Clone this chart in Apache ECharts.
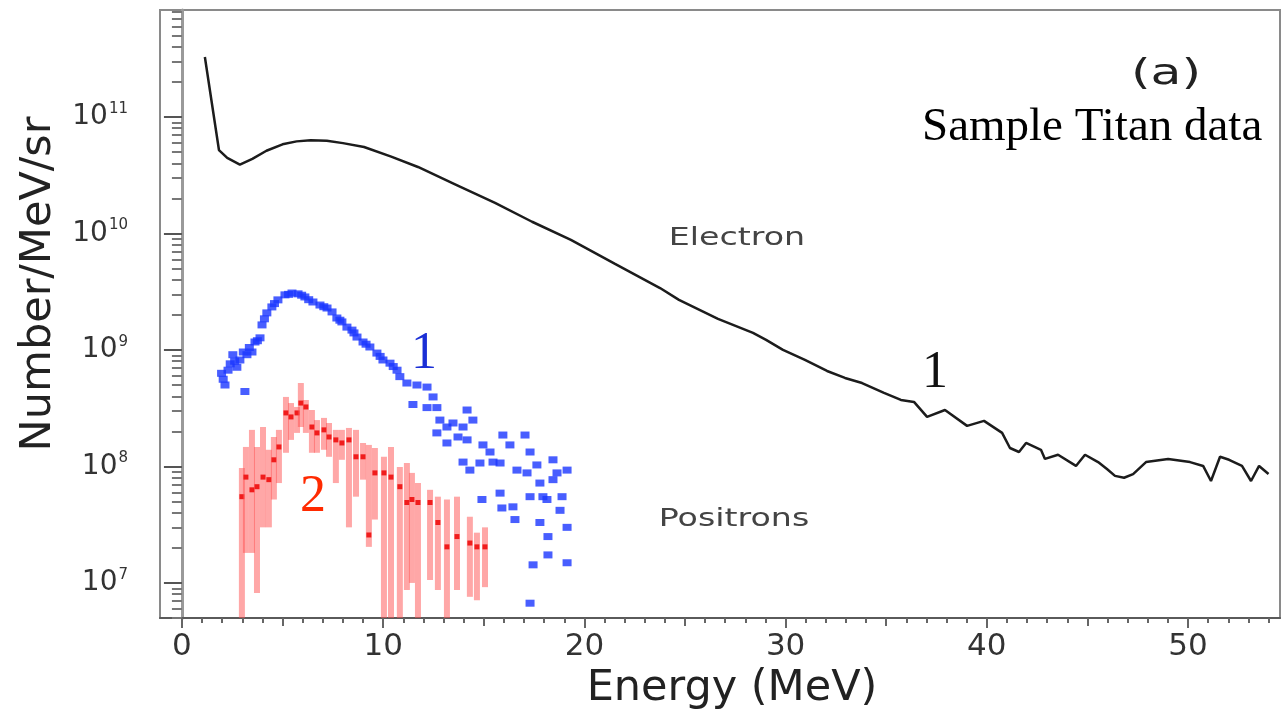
<!DOCTYPE html>
<html>
<head>
<meta charset="utf-8">
<title>Energy spectrum</title>
<script src="https://cdn.jsdelivr.net/npm/echarts@6/dist/echarts.min.js"></script>
<style>
  html, body { margin: 0; padding: 0; background: #ffffff; }
  #chart { width: 1285px; height: 712px; }
</style>
</head>
<body>
<div id="chart"></div>
<script>
// ---- Electron spectrum (curve 1, black) ----
const electronEnergy = [
  1.14, 1.84, 2.25, 2.88, 3.5, 4.2, 5.0, 5.7, 6.4, 7.2, 8.0, 9.05, 10.4, 11.73, 13.6,
  15.56, 17.4, 19.33, 21.5, 23.76, 24.7, 26.64, 28.38, 29.03, 29.87, 30.96, 32.06,
  32.95, 33.8, 34.89, 35.73, 36.38, 37.03, 37.92, 39.02, 39.86, 40.76, 41.15, 41.6,
  41.95, 42.69, 42.89, 43.54, 44.43, 44.88, 45.53, 45.97, 46.37, 46.82, 47.27, 47.91,
  49.01, 50.1, 50.75, 51.14, 51.59, 52.04, 52.68, 53.13, 53.53, 54.0
];
const electronFlux = [
  3.27e11, 5.2e10, 4.45e10, 3.9e10, 4.37e10, 5.13e10, 5.82e10, 6.17e10, 6.31e10, 6.24e10,
  5.96e10, 5.52e10, 4.57e10, 3.72e10, 2.63e10, 1.83e10, 1.26e10, 8.8e9, 5.5e9, 3.4e9,
  2.69e9, 1.85e9, 1.4e9, 1.22e9, 1.0e9, 8.2e8, 6.6e8, 5.75e8, 5.2e8, 4.28e8, 3.72e8,
  3.58e8, 2.66e8, 3.05e8, 2.23e8, 2.46e8, 1.94e8, 1.44e8, 1.33e8, 1.59e8, 1.39e8,
  1.16e8, 1.26e8, 1.01e8, 1.26e8, 1.09e8, 9.5e7, 8.3e7, 8.0e7, 8.6e7, 1.09e8, 1.16e8,
  1.09e8, 1.01e8, 7.5e7, 1.21e8, 1.14e8, 1.01e8, 7.5e7, 1.01e8, 8.6e7
];

// ---- Positron spectrum, run 1 (blue points) ----
const positronEnergy1 = [
  1.97, 2.14, 2.29, 2.53, 2.73, 2.88, 3.13, 3.23, 3.48, 3.63, 3.88, 3.98, 4.22, 4.47,
  4.77, 5.12, 5.47, 5.77, 6.11, 6.51, 6.86, 7.21, 7.46, 7.7, 7.95, 8.2, 8.45, 8.7,
  9.0, 9.34, 9.69, 9.99, 10.34, 10.69, 10.83, 11.18, 11.68, 12.18, 12.48, 11.48,
  12.18, 12.67, 12.82, 13.17, 13.47, 13.97, 14.17, 14.46, 12.67, 13.17, 13.72, 14.17,
  14.96, 15.31, 15.46, 15.81, 13.97, 14.31, 14.81, 15.95, 16.3, 17.05, 17.3, 16.65,
  17.15, 17.64, 18.44, 18.64, 19.14, 14.91, 15.81, 15.9, 16.45, 17.3, 17.94, 18.14,
  18.89, 16.55, 17.79, 19.14, 18.19, 18.19, 17.45, 19.14, 17.3, 17.79, 18.79, 18.44,
  2.05, 2.4, 2.62, 3.05, 3.35, 3.75, 4.1, 4.6, 5.3, 5.95, 6.3, 7.05, 7.85, 8.55, 9.15,
  9.85, 10.5
];
const positronFlux1 = [
  6.3e8, 5.0e8, 6.7e8, 9.1e8, 7.1e8, 8.2e8, 4.4e8, 9.1e8, 9.6e8, 1.17e9, 1.27e9, 1.64e9,
  2.08e9, 2.34e9, 2.69e9, 2.97e9, 3.08e9, 3.03e9, 2.85e9, 2.58e9, 2.43e9, 2.29e9,
  2.12e9, 1.88e9, 1.74e9, 1.57e9, 1.48e9, 1.29e9, 1.17e9, 1.06e9, 9.4e8, 8.2e8, 7.7e8,
  6.7e8, 5.9e8, 5.2e8, 5.0e8, 4.8e8, 3.95e8, 3.4e8, 3.2e8, 3.2e8, 2.5e8, 2.18e8,
  2.36e8, 2.18e8, 3.05e8, 2.5e8, 1.94e8, 1.59e8, 1.79e8, 1.69e8, 1.53e8, 1.33e8,
  1.09e8, 1.07e8, 1.09e8, 9.3e7, 1.07e8, 1.86e8, 1.53e8, 1.86e8, 1.33e8, 9.3e7, 8.8e7,
  1.03e8, 1.14e8, 8.8e7, 9.3e7, 5.2e7, 5.9e7, 4.4e7, 4.5e7, 5.5e7, 5.5e7, 5.2e7, 5.5e7,
  3.5e7, 3.3e7, 3.0e7, 2.5e7, 1.74e7, 1.43e7, 1.49e7, 6.7e6, 7.2e7, 4.2e7, 7.7e7,
  5.6e8, 7.6e8, 8.0e8, 9.6e8, 1.05e9, 1.2e9, 1.85e9, 2.5e9, 3.0e9, 2.95e9, 2.7e9,
  2.35e9, 1.8e9, 1.4e9, 1.12e9, 8.8e8, 7.2e8
];

// ---- Positron spectrum, run 2 (red points with error bars) ----
const positronEnergy2 = [
  2.98, 3.18, 3.48, 3.73, 4.03, 4.32, 4.57, 4.82, 5.17, 5.42, 5.72, 5.91, 6.16, 6.46,
  6.71, 7.06, 7.31, 7.65, 7.95, 8.3, 8.65, 9.0, 9.29, 9.59, 10.04, 10.39, 10.83, 11.18,
  11.43, 11.73, 12.33, 12.72, 13.17, 13.67, 14.31, 14.66, 15.06
];
const positronFlux2 = [
  5.5e7, 8.1e7, 6.3e7, 6.7e7, 8.1e7, 7.7e7, 1.14e8, 1.47e8, 2.88e8, 2.66e8, 2.88e8,
  3.5e8, 3.24e8, 2.18e8, 1.94e8, 2.06e8, 1.79e8, 1.69e8, 1.59e8, 1.69e8, 1.21e8,
  1.21e8, 2.58e7, 8.8e7, 8.8e7, 8.1e7, 6.7e7, 4.9e7, 5.2e7, 4.9e7, 4.9e7, 3.3e7,
  2.04e7, 2.5e7, 2.2e7, 2.04e7, 2.04e7
];
const positronLow2 = [
  1e6, 1.81e7, 1.81e7, 8.2e6, 3.0e7, 3.0e7, 5.2e7, 7.2e7, 1.31e8, 1.69e8, 1.94e8,
  2.18e8, 1.94e8, 1.31e8, 1.31e8, 1.39e8, 1.21e8, 7.2e7, 1.14e8, 3.0e7, 5.5e7, 7.7e7,
  2.04e7, 3.5e7, 1e6, 1e6, 1e6, 8.7e6, 1.0e7, 1e6, 1.06e7, 8.7e6, 1e6, 8.7e6, 7.6e6,
  7.1e6, 9.2e6
];
const positronHigh2 = [
  9.7e7, 1.47e8, 2.06e8, 1.47e8, 2.18e8, 1.39e8, 1.79e8, 2.06e8, 3.95e8, 3.5e8, 3.24e8,
  5.2e8, 3.72e8, 3.05e8, 2.5e8, 2.61e8, 2.36e8, 2.06e8, 2.06e8, 2.14e8, 2.06e8, 1.59e8,
  1.53e8, 1.44e8, 1.21e8, 1.47e8, 9.9e7, 1.07e8, 8.8e7, 7.2e7, 6.3e7, 5.5e7, 5.2e7,
  5.5e7, 3.7e7, 2.7e7, 3.0e7
];

// ---- Axis ticks and labels ----
const xTickLabels = [0, 10, 20, 30, 40, 50];
const xMidTicks = [5, 15, 25, 35, 45];
const xMinorTicks = [];
for (let e = 0; e <= 54; e++) xMinorTicks.push(e);
const yTickExponents = [7, 8, 9, 10, 11];
const yTickValues = [1e7, 1e8, 1e9, 1e10, 1e11];
const yMinorTicks = [];
for (let p = 6; p <= 11; p++) {
  for (let m = 2; m <= 9; m++) yMinorTicks.push(m * Math.pow(10, p));
}

const X_MIN = -1.09, X_MAX = 54.57;
const Y_MIN = 5.0e6, Y_MAX = 8.28e11;
const SANS = 'DejaVu Sans';
const SERIF = 'Liberation Serif';

const gridBox = { left: 160, right: 5, top: 10, bottom: 94, outerBoundsMode: 'none' };

function xAxisOf(gridIndex, extra) {
  return Object.assign({
    type: 'value', gridIndex: gridIndex, min: X_MIN, max: X_MAX, position: 'bottom',
    splitLine: { show: false },
    axisLine: { show: false },
    axisLabel: { show: false }
  }, extra);
}
function yAxisOf(gridIndex, extra) {
  return Object.assign({
    type: 'log', logBase: 10, gridIndex: gridIndex, min: Y_MIN, max: Y_MAX, position: 'left',
    splitLine: { show: false },
    axisLine: { show: false },
    axisTick: { show: false },
    axisLabel: { show: false }
  }, extra);
}

// Vertical error bar with a small centre marker.
function renderErrorBar(params, api) {
  const e = api.value(0);
  const mid = api.coord([e, api.value(1)]);
  const lo = api.coord([e, api.value(2)]);
  const hi = api.coord([e, api.value(3)]);
  const w = 6;
  return {
    type: 'group',
    children: [
      {
        type: 'rect',
        shape: { x: hi[0] - w / 2, y: hi[1], width: w, height: lo[1] - hi[1] },
        style: { fill: 'rgba(255, 80, 80, 0.5)' }
      },
      {
        type: 'rect',
        shape: { x: mid[0] - 2.5, y: mid[1] - 2.5, width: 5, height: 5 },
        style: { fill: '#f01c1c' }
      }
    ]
  };
}

const chart = echarts.init(document.getElementById('chart'), null, { renderer: 'canvas' });

chart.setOption({
  animation: false,
  backgroundColor: '#ffffff',
  grid: [
    Object.assign({ show: true, borderColor: '#8a8a8a', borderWidth: 2, backgroundColor: 'transparent' }, gridBox),
    Object.assign({ show: false }, gridBox),
    Object.assign({ show: false }, gridBox)
  ],
  xAxis: [
    xAxisOf(0, {
      axisLine: { show: true, lineStyle: { color: '#5a5a5a', width: 2 } },
      axisTick: { show: true, customValues: xTickLabels, length: 10, lineStyle: { color: '#666', width: 2 } },
      axisLabel: {
        show: true, customValues: xTickLabels, margin: 13,
        fontFamily: SANS, fontSize: 31, color: '#333'
      },
      name: 'Energy (MeV)', nameLocation: 'middle', nameGap: 38,
      nameTextStyle: { fontFamily: SANS, fontSize: 43, color: '#222', padding: [0, 0, 0, 24] }
    }),
    xAxisOf(1, {
      axisTick: { show: true, customValues: xMidTicks, length: 8, lineStyle: { color: '#666', width: 2 } }
    }),
    xAxisOf(2, {
      axisTick: { show: true, customValues: xMinorTicks, length: 5, lineStyle: { color: '#666', width: 2 } }
    })
  ],
  yAxis: [
    yAxisOf(0, {
      axisLine: { show: true, lineStyle: { color: '#9a9a9a', width: 3 } },
      axisTick: { show: true, customValues: yTickValues, length: 18, lineStyle: { color: '#555', width: 2 } },
      axisLabel: {
        show: true, customValues: yTickValues, margin: 32,
        formatter: function (v) {
          const i = yTickValues.findIndex(t => Math.abs(t - v) / t < 1e-6);
          return '{b|10}{e|' + (i >= 0 ? yTickExponents[i] : '') + '}';
        },
        rich: {
          b: { fontFamily: SANS, fontSize: 28, color: '#333' },
          e: { fontFamily: SANS, fontSize: 15, color: '#333', padding: [0, 0, 16, 1] }
        }
      },
      name: 'Number/MeV/sr', nameLocation: 'middle', nameRotate: 90, nameGap: 100,
      nameTextStyle: { fontFamily: SANS, fontSize: 43, color: '#222', padding: [0, 0, 0, 60] }
    }),
    yAxisOf(1, {
      axisTick: { show: true, customValues: yMinorTicks, length: 10, lineStyle: { color: '#777', width: 2 } }
    }),
    yAxisOf(2, {})
  ],
  series: [
    {
      name: 'Electron',
      type: 'line',
      xAxisIndex: 0, yAxisIndex: 0,
      data: electronEnergy.map((e, i) => [e, electronFlux[i]]),
      showSymbol: false,
      clip: true,
      lineStyle: { color: '#1c1c1c', width: 2.5 },
      z: 3
    },
    {
      name: 'Positrons 1',
      type: 'scatter',
      xAxisIndex: 0, yAxisIndex: 0,
      data: positronEnergy1.map((e, i) => [e, positronFlux1[i]]),
      symbol: 'rect',
      symbolSize: [9, 7],
      clip: true,
      itemStyle: { color: '#1a36ff' },
      z: 4
    },
    {
      name: 'Positrons 2',
      type: 'custom',
      xAxisIndex: 0, yAxisIndex: 0,
      data: positronEnergy2.map((e, i) => [e, positronFlux2[i], positronLow2[i], positronHigh2[i]]),
      renderItem: renderErrorBar,
      clip: true,
      z: 5
    }
  ],
  graphic: [
    { type: 'text', x: 1166, y: 75, scaleX: 1.4, style: { text: '(a)', font: '36px "' + SANS + '"', fill: '#222', align: 'center', verticalAlign: 'middle' } },
    { type: 'text', x: 922, y: 128, style: { text: 'Sample Titan data', font: '47px "' + SERIF + '"', fill: '#000', align: 'left', verticalAlign: 'middle' } },
    { type: 'text', x: 737, y: 238, scaleX: 1.33, style: { text: 'Electron', font: '25px "' + SANS + '"', fill: '#444', align: 'center', verticalAlign: 'middle' } },
    { type: 'text', x: 734, y: 519, scaleX: 1.33, style: { text: 'Positrons', font: '25px "' + SANS + '"', fill: '#444', align: 'center', verticalAlign: 'middle' } },
    { type: 'text', x: 424, y: 354, style: { text: '1', font: '52px "' + SERIF + '"', fill: '#1a2fd6', align: 'center', verticalAlign: 'middle' } },
    { type: 'text', x: 935, y: 373, style: { text: '1', font: '52px "' + SERIF + '"', fill: '#111', align: 'center', verticalAlign: 'middle' } },
    { type: 'text', x: 313, y: 497, style: { text: '2', font: '52px "' + SERIF + '"', fill: '#ff2a00', align: 'center', verticalAlign: 'middle' } }
  ]
});
</script>
</body>
</html>
